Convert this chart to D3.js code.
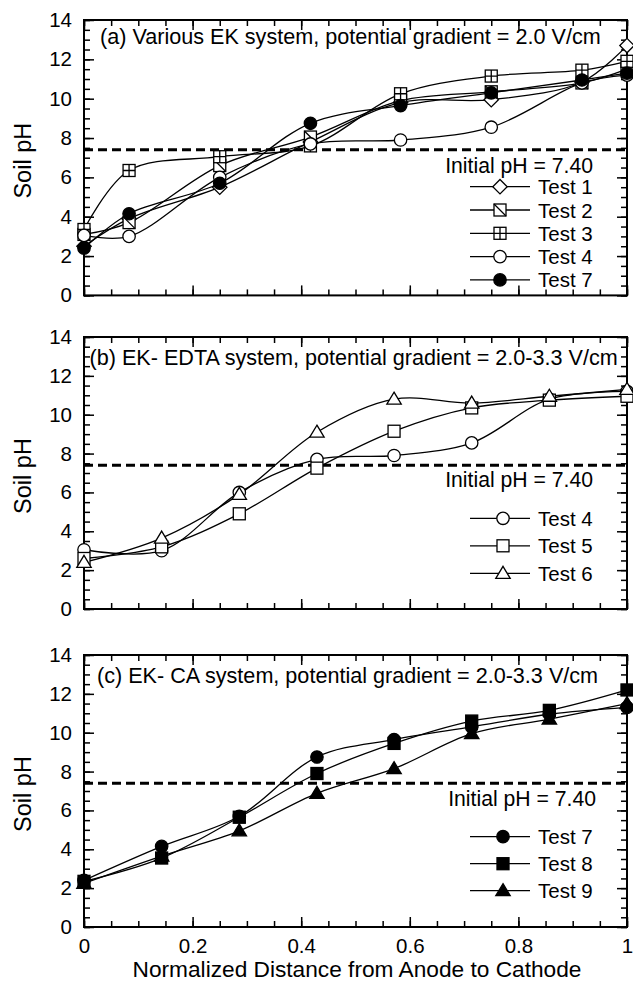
<!DOCTYPE html>
<html>
<head>
<meta charset="utf-8">
<script src="https://cdn.jsdelivr.net/npm/d3@7"></script>
<style>
  body { margin: 0; background: #fff; }
  text { font-family: "Liberation Sans", Arial, sans-serif; fill: #000; }
</style>
</head>
<body>
<svg id="chart" width="633" height="984"></svg>
<script>
// tick labels
const xTickValues = [0, 0.2, 0.4, 0.6, 0.8, 1];
const xTickLabels = ["0", "0.2", "0.4", "0.6", "0.8", "1"];
const yTickValues = [0, 2, 4, 6, 8, 10, 12, 14];
const yTickLabels = ["0", "2", "4", "6", "8", "10", "12", "14"];

// normalized distance of the sampling sections
const distA = [0, 0.083, 0.25, 0.417, 0.583, 0.75, 0.917, 1];
const distBC = [0, 0.143, 0.286, 0.429, 0.571, 0.714, 0.857, 1];

// soil pH per test
const test1 = [2.5, 3.9, 5.5, 7.8, 9.8, 9.95, 10.85, 12.7];
const test2 = [3.1, 3.7, 6.6, 8.05, 9.9, 10.35, 10.8, 11.5];
const test3 = [3.35, 6.35, 7.05, 7.6, 10.25, 11.15, 11.45, 11.9];
const test4 = [3.05, 3.0, 6.0, 7.7, 7.9, 8.55, 10.8, 11.2];
const test5 = [2.6, 3.2, 4.9, 7.25, 9.15, 10.35, 10.75, 10.95];
const test6 = [2.4, 3.65, 5.9, 9.1, 10.8, 10.6, 10.95, 11.3];
const test7 = [2.4, 4.15, 5.7, 8.75, 9.65, 10.3, 10.95, 11.3];
const test8 = [2.35, 3.55, 5.65, 7.9, 9.45, 10.6, 11.15, 12.2];
const test9 = [2.25, 3.65, 4.95, 6.88, 8.15, 9.95, 10.7, 11.5];

const initialPH = 7.40;
const panelTitles = [
  "(a) Various EK system, potential gradient = 2.0 V/cm",
  "(b) EK- EDTA system, potential gradient = 2.0-3.3 V/cm",
  "(c) EK- CA system, potential gradient = 2.0-3.3 V/cm"
];

const svg = d3.select("#chart");
const x = d3.scaleLinear().domain([0, 1]).range([84, 627]);

const panels = [
  { title: panelTitles[0], top: 20, bottom: 295.4, titleX: 100, titleY: 43.5, initY: 173, initX: 593,
    legendTop: 186.7, legendStep: 23.3, legendMarkX: 500, xLabels: false,
    series: [
      { name: "Test 1", x: distA, v: test1, mark: "diamond" },
      { name: "Test 2", x: distA, v: test2, mark: "squareDiag" },
      { name: "Test 3", x: distA, v: test3, mark: "squareCross" },
      { name: "Test 4", x: distA, v: test4, mark: "circle" },
      { name: "Test 7", x: distA, v: test7, mark: "circleFilled" }
    ] },
  { title: panelTitles[1], top: 337, bottom: 609, titleX: 89.5, titleY: 365, initY: 486.5, initX: 593,
    legendTop: 518.3, legendStep: 27.5, legendMarkX: 503, xLabels: false,
    series: [
      { name: "Test 4", x: distBC, v: test4, mark: "circle" },
      { name: "Test 5", x: distBC, v: test5, mark: "square" },
      { name: "Test 6", x: distBC, v: test6, mark: "triangle" }
    ] },
  { title: panelTitles[2], top: 655, bottom: 927, titleX: 97, titleY: 682.5, initY: 806, initX: 596,
    legendTop: 836.7, legendStep: 27, legendMarkX: 503, xLabels: true,
    series: [
      { name: "Test 7", x: distBC, v: test7, mark: "circleFilled" },
      { name: "Test 8", x: distBC, v: test8, mark: "squareFilled" },
      { name: "Test 9", x: distBC, v: test9, mark: "triangleFilled" }
    ] }
];

function addMarker(g, type, cx, cy) {
  const m = g.append("g").attr("transform", `translate(${cx},${cy})`)
    .attr("stroke", "#000").attr("stroke-width", 1.3);
  const filled = type.endsWith("Filled");
  const fill = filled ? "#000" : "#fff";
  if (type.startsWith("circle")) {
    m.append("circle").attr("r", 6.2).attr("fill", fill);
  } else if (type.startsWith("square")) {
    m.append("rect").attr("x", -6).attr("y", -6).attr("width", 12).attr("height", 12).attr("fill", fill);
    if (type === "squareDiag") m.append("path").attr("d", "M-6,-6L6,6");
    if (type === "squareCross") m.append("path").attr("d", "M0,-6V6M-6,0H6");
  } else if (type.startsWith("triangle")) {
    m.append("path").attr("d", "M0,-7L7.2,5L-7.2,5Z").attr("fill", fill);
  } else if (type === "diamond") {
    m.append("path").attr("d", "M0,-7.2L7.2,0L0,7.2L-7.2,0Z").attr("fill", fill);
  }
}

function drawPanel(p) {
  const g = svg.append("g");
  const y = d3.scaleLinear().domain([0, 14]).range([p.bottom, p.top]);
  const minorY = y.ticks(28);
  const minorX = x.ticks(20);

  const tickStyle = sel => {
    sel.select(".domain").remove();
    sel.selectAll(".tick line").attr("stroke", "#000").attr("stroke-width", 1.5);
  };

  // minor ticks, all four sides
  g.append("g").attr("transform", `translate(${x(0)},0)`)
    .call(d3.axisLeft(y).tickValues(minorY).tickSize(-6).tickFormat("")).call(tickStyle);
  g.append("g").attr("transform", `translate(${x(1)},0)`)
    .call(d3.axisRight(y).tickValues(minorY).tickSize(-6).tickFormat("")).call(tickStyle);
  g.append("g").attr("transform", `translate(0,${p.top})`)
    .call(d3.axisTop(x).tickValues(minorX).tickSize(-6).tickFormat("")).call(tickStyle);
  g.append("g").attr("transform", `translate(0,${p.bottom})`)
    .call(d3.axisBottom(x).tickValues(minorX).tickSize(-6).tickFormat("")).call(tickStyle);

  // major ticks
  const left = g.append("g").attr("transform", `translate(${x(0)},0)`)
    .call(d3.axisLeft(y).tickValues(yTickValues).tickSize(-10).tickPadding(12)
      .tickFormat((d, i) => yTickLabels[i])).call(tickStyle);
  left.selectAll("text").attr("font-size", 20.5).attr("font-family", null);
  g.append("g").attr("transform", `translate(${x(1)},0)`)
    .call(d3.axisRight(y).tickValues(yTickValues).tickSize(-10).tickFormat("")).call(tickStyle);
  g.append("g").attr("transform", `translate(0,${p.top})`)
    .call(d3.axisTop(x).tickValues(xTickValues).tickSize(-10).tickFormat("")).call(tickStyle);
  const bottom = g.append("g").attr("transform", `translate(0,${p.bottom})`)
    .call(d3.axisBottom(x).tickValues(xTickValues).tickSize(-10).tickPadding(11.5)
      .tickFormat((d, i) => p.xLabels ? xTickLabels[i] : "")).call(tickStyle);
  bottom.selectAll("text").attr("font-size", 20.5).attr("font-family", null);

  // frame
  g.append("rect").attr("x", x(0)).attr("y", p.top)
    .attr("width", x(1) - x(0)).attr("height", p.bottom - p.top)
    .attr("fill", "none").attr("stroke", "#000").attr("stroke-width", 2);

  // initial pH
  g.append("line").attr("x1", x(0)).attr("x2", x(1))
    .attr("y1", y(initialPH)).attr("y2", y(initialPH))
    .attr("stroke", "#000").attr("stroke-width", 3).attr("stroke-dasharray", "9,5");
  g.append("text").attr("x", p.initX).attr("y", p.initY).attr("text-anchor", "end")
    .attr("font-size", 21.2).text("Initial pH = " + initialPH.toFixed(2));

  g.append("text").attr("x", p.titleX).attr("y", p.titleY)
    .attr("font-size", 21.6).text(p.title);

  const line = d3.line().x(d => x(d[0])).y(d => y(d[1]))
    .curve(d3.curveCatmullRom.alpha(0.5));

  p.series.forEach(s => {
    g.append("path").datum(d3.zip(s.x, s.v)).attr("d", line)
      .attr("fill", "none").attr("stroke", "#000").attr("stroke-width", 1.3);
  });
  p.series.forEach(s => {
    d3.zip(s.x, s.v).forEach(d => addMarker(g, s.mark, x(d[0]), y(d[1])));
  });

  // legend
  p.series.forEach((s, i) => {
    const ly = p.legendTop + i * p.legendStep;
    g.append("line").attr("x1", 470).attr("x2", 530).attr("y1", ly).attr("y2", ly)
      .attr("stroke", "#000").attr("stroke-width", 1.3);
    addMarker(g, s.mark, p.legendMarkX, ly);
    g.append("text").attr("x", 538).attr("y", ly + 7.5).attr("font-size", 20.5).text(s.name);
  });

  // y axis title
  svg.append("text")
    .attr("transform", `translate(31,${(p.top + p.bottom) / 2 + 3}) rotate(-90)`)
    .attr("text-anchor", "middle").attr("font-size", 23.5).text("Soil pH");
}

panels.forEach(drawPanel);

svg.append("text").attr("x", 357).attr("y", 977).attr("text-anchor", "middle")
  .attr("font-size", 22.7).text("Normalized Distance from Anode to Cathode");
</script>
</body>
</html>
